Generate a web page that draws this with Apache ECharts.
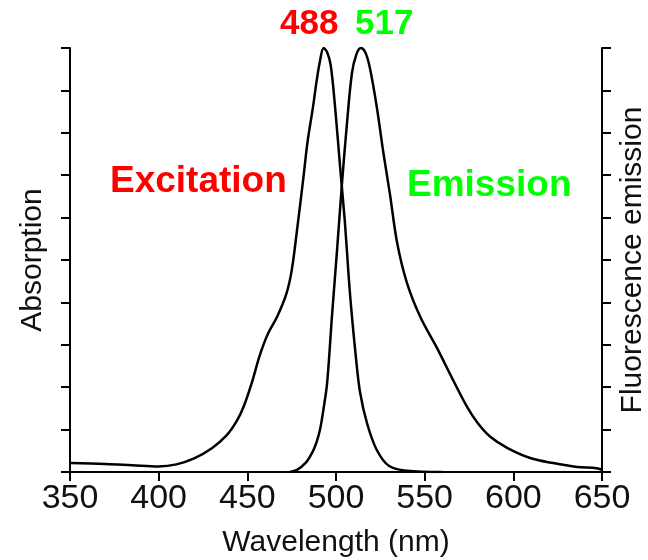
<!DOCTYPE html>
<html>
<head>
<meta charset="utf-8">
<script src="https://cdn.jsdelivr.net/npm/echarts@6/dist/echarts.min.js"></script>
<style>html,body{margin:0;padding:0;background:#fff}#c{width:648px;height:560px}</style>
</head>
<body>
<div id="c"></div>
<script>
const xTicks = [350, 400, 450, 500, 550, 600, 650];
const excitationX = [350, 370, 385, 400, 410, 420, 430, 438, 444, 448, 452.5, 457, 461.5, 467, 472, 475, 478, 481.5, 484, 487, 489, 491, 493, 495, 497, 499.5, 502.3, 505, 507, 508.5, 511, 513.5, 517.5, 523, 530, 540, 560];
const excitationY = [0.021, 0.019, 0.016, 0.013, 0.018, 0.032, 0.056, 0.085, 0.12, 0.155, 0.21, 0.275, 0.325, 0.368, 0.42, 0.475, 0.57, 0.69, 0.78, 0.86, 0.92, 0.97, 1.0, 0.99, 0.96, 0.86, 0.72, 0.59, 0.47, 0.39, 0.28, 0.19, 0.115, 0.052, 0.014, 0.003, 0.0];
const emissionX = [474, 478, 483, 486.5, 489, 491, 493, 495, 497.7, 500.6, 503.4, 506.2, 509, 511.5, 514, 516.5, 519, 523, 526.5, 530.5, 534.5, 540, 547.5, 557.5, 566, 574, 580, 587, 596.5, 609.5, 622.5, 636, 647, 650];
const emissionY = [0.0, 0.005, 0.022, 0.045, 0.07, 0.1, 0.15, 0.21, 0.366, 0.524, 0.682, 0.823, 0.941, 0.985, 1.0, 0.99, 0.955, 0.861, 0.759, 0.653, 0.54, 0.446, 0.366, 0.288, 0.217, 0.153, 0.115, 0.083, 0.057, 0.033, 0.021, 0.012, 0.009, 0.005];
const labels = { exPeak: '488', emPeak: '517', ex: 'Excitation', em: 'Emission' };

const chart = echarts.init(document.getElementById('c'), null, { renderer: 'canvas' });
const font = 'Liberation Sans, Arial, sans-serif';
const yAxisBase = {
  type: 'value', min: 0, max: 1, interval: 0.1,
  axisLine: { show: true, lineStyle: { color: '#000', width: 2 } },
  axisTick: { show: true, inside: false, length: 9, lineStyle: { color: '#000', width: 2 } },
  axisLabel: { show: false },
  splitLine: { show: false },
  nameLocation: 'middle', nameRotate: 90,
  nameTextStyle: { fontFamily: font, fontSize: 30, color: '#111' }
};
chart.setOption({
  animation: false,
  backgroundColor: '#fff',
  grid: { left: 70, right: 46, top: 48, bottom: 88, outerBoundsMode: 'none', containLabel: false },
  xAxis: {
    type: 'value', min: 350, max: 650, interval: 50,
    axisLine: { lineStyle: { color: '#000', width: 2 } },
    axisTick: { inside: false, length: 9, lineStyle: { color: '#000', width: 2 } },
    axisLabel: { fontFamily: font, fontSize: 34, color: '#111', margin: 10,
      formatter: v => xTicks.includes(v) ? String(v) : '' },
    splitLine: { show: false },
    name: 'Wavelength (nm)', nameLocation: 'middle', nameGap: 56,
    nameTextStyle: { fontFamily: font, fontSize: 30, color: '#111' }
  },
  yAxis: [
    Object.assign({}, yAxisBase, { position: 'left', name: 'Absorption', nameGap: 22 }),
    Object.assign({}, yAxisBase, { position: 'right', name: 'Fluorescence emission', nameGap: 16 })
  ],
  series: [
    { type: 'line', yAxisIndex: 0, data: excitationX.map((x, i) => [x, excitationY[i]]),
      showSymbol: false, smooth: 0.35, lineStyle: { color: '#000', width: 2.5 } },
    { type: 'line', yAxisIndex: 1, data: emissionX.map((x, i) => [x, emissionY[i]]),
      showSymbol: false, smooth: 0.35, lineStyle: { color: '#000', width: 2.5 } }
  ],
  graphic: [
    { type: 'text', left: 280, top: 7, style: { text: labels.exPeak, fill: '#ff0000', font: 'bold 35px ' + font } },
    { type: 'text', left: 355, top: 7, style: { text: labels.emPeak, fill: '#00ff00', font: 'bold 35px ' + font } },
    { type: 'text', left: 110, top: 163, style: { text: labels.ex, fill: '#ff0000', font: 'bold 37px ' + font } },
    { type: 'text', left: 407, top: 167, style: { text: labels.em, fill: '#00ff00', font: 'bold 37px ' + font } }
  ]
});
</script>
</body>
</html>
